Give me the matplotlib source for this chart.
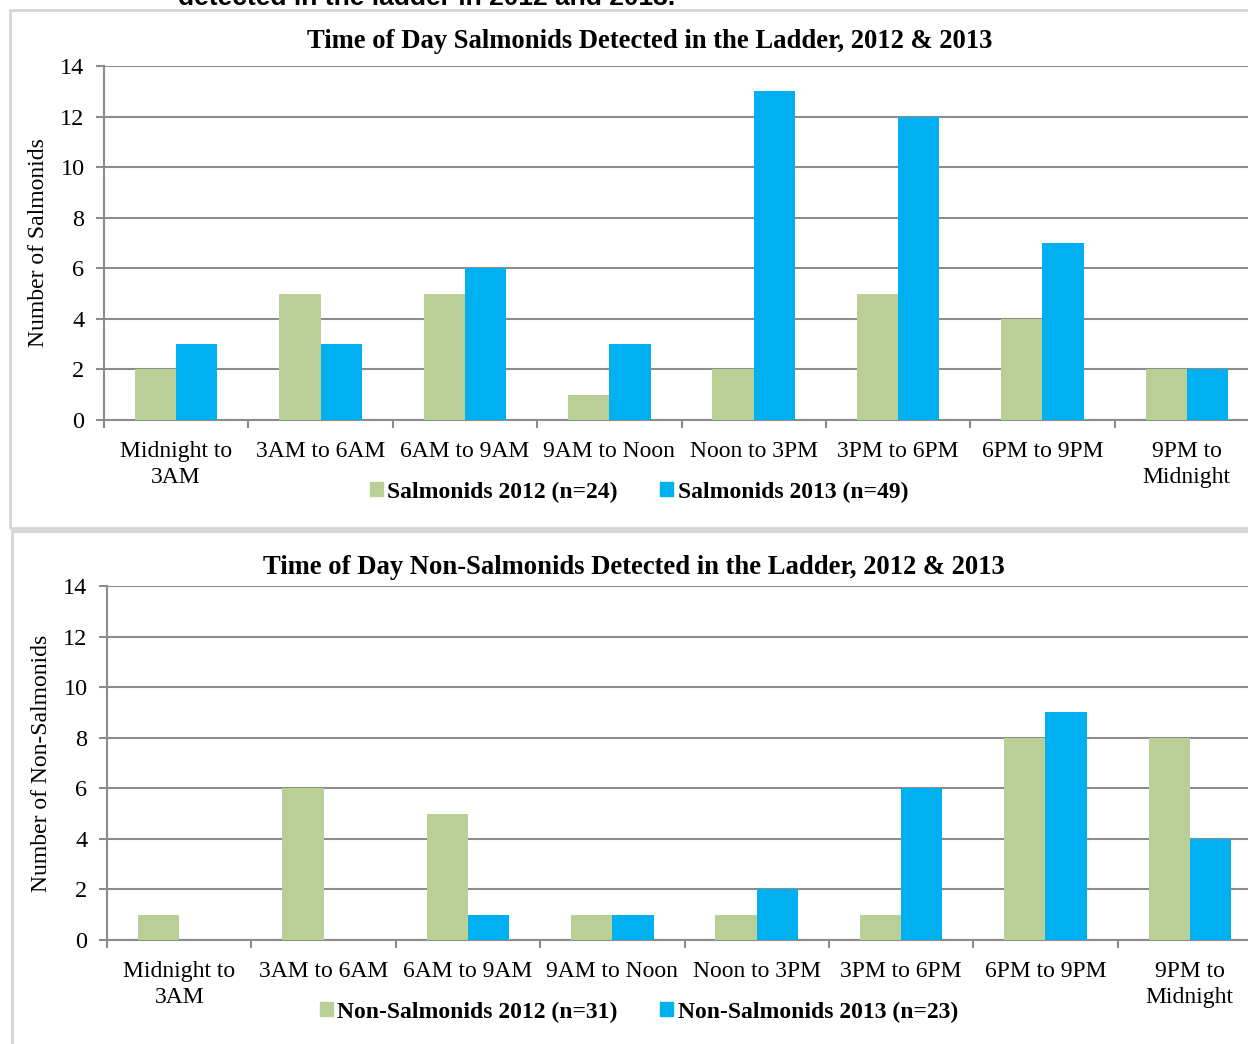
import numpy as np
import matplotlib.pyplot as plt
from matplotlib.patches import Patch, Rectangle

# time-of-day bins (3 hour blocks)
periods = ['Midnight to\n3AM', '3AM to 6AM', '6AM to 9AM', '9AM to Noon',
           'Noon to 3PM', '3PM to 6PM', '6PM to 9PM', '9PM to\nMidnight']

salmonids_2012 = [2, 5, 5, 1, 2, 5, 4, 2]
salmonids_2013 = [3, 3, 6, 3, 13, 12, 7, 2]
non_salmonids_2012 = [1, 6, 5, 1, 1, 1, 8, 8]
non_salmonids_2013 = [0, 0, 1, 1, 2, 6, 9, 4]

green = '#B9CF96'
blue = '#00B0F0'
grid_col = '#8C8C8C'

plt.rcParams['font.family'] = ['Liberation Serif', 'DejaVu Serif']

W, H = 1248, 1044
fig = plt.figure(figsize=(W / 100, H / 100), dpi=100)


def px_axes(left, top, right, bottom):
    return fig.add_axes([left / W, 1 - bottom / H, (right - left) / W, (bottom - top) / H])


def bar_panel(ax, vals_a, vals_b, ylabel):
    x = np.arange(len(periods)) + 0.5
    w = 1 / 3.5
    ax.bar(x - w / 2, vals_a, w, color=green, zorder=3)
    ax.bar(x + w / 2, vals_b, w, color=blue, zorder=3)
    ax.set_xlim(0, len(periods))
    ax.set_ylim(0, 14)
    ax.set_yticks(range(0, 15, 2))
    ax.yaxis.grid(True, color=grid_col, linewidth=1.5, zorder=0)
    for s in ['top', 'right']:
        ax.spines[s].set_visible(False)
    for s in ['left', 'bottom']:
        ax.spines[s].set_color(grid_col)
        ax.spines[s].set_linewidth(1.5)
    # category boundaries get the tick marks, labels sit in the middle
    ax.set_xticks(range(len(periods) + 1))
    ax.set_xticklabels([])
    ax.set_xticks(x, minor=True)
    ax.set_xticklabels(periods, minor=True, fontsize=17, linespacing=1.35)
    ax.tick_params(axis='x', which='major', length=6, width=1.5, color=grid_col, direction='out')
    ax.tick_params(axis='x', which='minor', length=0, pad=15)
    ax.tick_params(axis='y', length=6, width=1.5, color=grid_col, labelsize=17.5, pad=8)
    ax.set_ylabel(ylabel, fontsize=17, labelpad=8)


# panel frames
fig.add_artist(Rectangle((10 / W, 1 - 528 / H), 1.2, 518 / H, transform=fig.transFigure,
                         fill=False, edgecolor='#D4D4D4', linewidth=2))
fig.add_artist(Rectangle((12 / W, -0.2), 1.2, 0.2 + 1 - 531 / H, transform=fig.transFigure,
                         fill=False, edgecolor='#D4D4D4', linewidth=2))

# caption line from the page above, partly cut off
fig.text(178 / W, 1 - 5 / H, 'detected in the ladder in 2012 and 2013.',
         family='Liberation Sans', fontweight='bold', fontsize=19, va='baseline')

ax1 = px_axes(104, 66, 1259, 420)
bar_panel(ax1, salmonids_2012, salmonids_2013, 'Number of Salmonids')
fig.text(650 / W, 1 - 42 / H, 'Time of Day Salmonids Detected in the Ladder, 2012 & 2013',
         ha='center', va='center', fontsize=19.2, fontweight='bold')
fig.legend(handles=[Patch(color=green, label='Salmonids 2012 (n=24)'),
                    Patch(color=blue, label='Salmonids 2013 (n=49)')],
           loc='center', bbox_to_anchor=(639 / W, 1 - 492 / H), ncol=2, frameon=False,
           prop={'weight': 'bold', 'size': 17}, handlelength=0.55, handleheight=0.55,
           handletextpad=0.2, columnspacing=1.8)

ax2 = px_axes(107, 586, 1262, 940)
bar_panel(ax2, non_salmonids_2012, non_salmonids_2013, 'Number of Non-Salmonids')
fig.text(634 / W, 1 - 568 / H, 'Time of Day Non-Salmonids Detected in the Ladder, 2012 & 2013',
         ha='center', va='center', fontsize=19.2, fontweight='bold')
fig.legend(handles=[Patch(color=green, label='Non-Salmonids 2012 (n=31)'),
                    Patch(color=blue, label='Non-Salmonids 2013 (n=23)')],
           loc='center', bbox_to_anchor=(639 / W, 1 - 1012 / H), ncol=2, frameon=False,
           prop={'weight': 'bold', 'size': 17}, handlelength=0.55, handleheight=0.55,
           handletextpad=0.2, columnspacing=1.8)

fig.savefig('out.png', dpi=100)
